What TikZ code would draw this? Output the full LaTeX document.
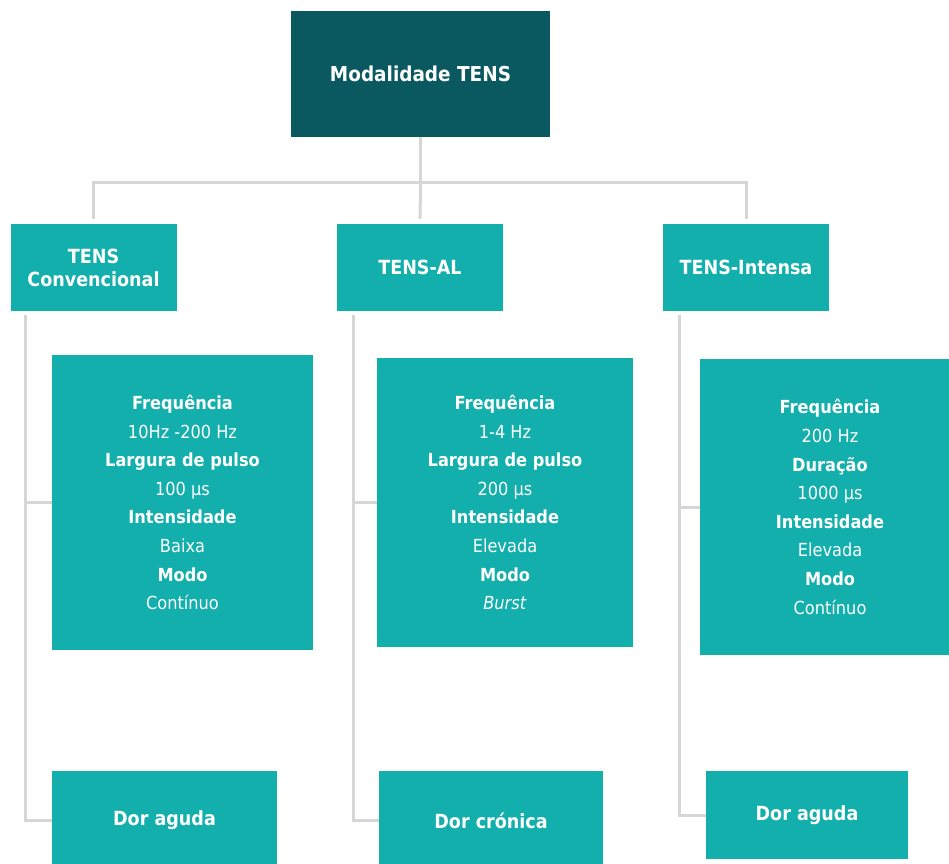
\documentclass[tikz,border=0pt]{standalone}
\usepackage{fontspec}
\setmainfont{DejaVu Sans}[FakeStretch=0.9]
\begin{document}
\begin{tikzpicture}[x=1pt,y=-1pt,
  conn/.style={draw=linegray,line width=3pt},
  rootbox/.style={fill=darkteal,text=white,inner sep=0pt,
    font=\bfseries\fontsize{20.5}{24}\selectfont},
  typebox/.style={fill=teal0,text=white,inner sep=0pt,align=center,
    minimum width=166pt,minimum height=87pt,
    font=\bfseries\fontsize{19.5}{23}\selectfont},
  infobox/.style={fill=teal0,text=white,inner sep=0pt,align=center,
    font=\fontsize{18}{28.6}\selectfont},
  painbox/.style={fill=teal0,text=white,inner sep=0pt,
    font=\bfseries\fontsize{19.5}{23}\selectfont}]
\definecolor{darkteal}{HTML}{0A5961}
\definecolor{teal0}{HTML}{12AFAC}
\definecolor{linegray}{HTML}{D6D6D6}
\useasboundingbox (0,0) rectangle (949,863);
\clip (0,0) rectangle (949,863);

% top level
\node[rootbox,minimum width=259pt,minimum height=126pt] (root) at (420.5,74) {Modalidade TENS};

% TENS variants
\node[typebox] (conv) at (93.5,267.5) {TENS\\Convencional};
\node[typebox] (al) at (420,267.5) {TENS-AL};
\node[typebox] (intensa) at (746,267.5) {TENS-Intensa};

% parameter boxes
\node[infobox,minimum width=261pt,minimum height=295pt] (info1) at (182.5,502.5)
  {\textbf{Frequência}\\10Hz -200 Hz\\\textbf{Largura de pulso}\\100 µs\\\textbf{Intensidade}\\Baixa\\\textbf{Modo}\\Contínuo};
\node[infobox,minimum width=256pt,minimum height=289pt] (info2) at (505,502.5)
  {\textbf{Frequência}\\1-4 Hz\\\textbf{Largura de pulso}\\200 µs\\\textbf{Intensidade}\\Elevada\\\textbf{Modo}\\\textit{Burst}};
\node[infobox,minimum width=260pt,minimum height=296pt] (info3) at (830,507)
  {\textbf{Frequência}\\200 Hz\\\textbf{Duração}\\1000 µs\\\textbf{Intensidade}\\Elevada\\\textbf{Modo}\\Contínuo};

% indications
\node[painbox,minimum width=225pt,minimum height=99pt] (pain1) at (164.5,820.5) {Dor aguda};
\node[painbox,minimum width=224pt,minimum height=99pt] (pain2) at (491,820.5) {Dor crónica};
\node[painbox,minimum width=202pt,minimum height=88pt] (pain3) at (807,815) {Dor aguda};

% tree connectors
\coordinate (bus) at (420.5,182);
\draw[conn] (root.south) -- (bus);
\draw[conn,shorten >=5pt] (bus) -| (conv.north);
\draw[conn,shorten >=5pt] (bus) -| (intensa.north);
\draw[conn,shorten >=5pt] (bus) -- (al.north);

% side spines
\coordinate (s1) at (25,315);
\coordinate (s2) at (353,315);
\coordinate (s3) at (679,315);
\draw[conn] (s1) |- (info1.west);
\draw[conn] (s1) |- (pain1.west);
\draw[conn] (s2) |- (info2.west);
\draw[conn] (s2) |- (pain2.west);
\draw[conn] (s3) |- (info3.west);
\draw[conn] (s3) |- (pain3.west);
\end{tikzpicture}
\end{document}
